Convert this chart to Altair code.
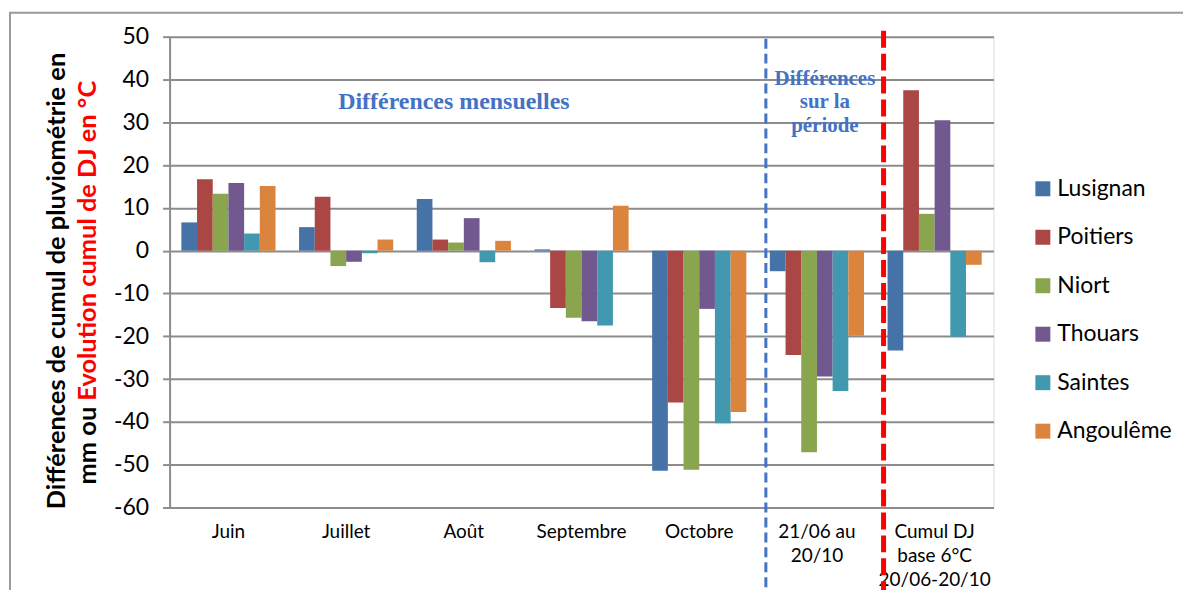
import altair as alt
import pandas as pd

# ---------------- data ----------------
categories = ["Juin", "Juillet", "Août", "Septembre", "Octobre",
              "21/06 au|20/10", "Cumul DJ|base 6°C|20/06-20/10"]
stations = ["Lusignan", "Poitiers", "Niort", "Thouars", "Saintes", "Angoulême"]
colors = ["#4572A7", "#AA4643", "#89A54E", "#71588F", "#4198AF", "#DB843D"]

lusignan = [6.6, 5.5, 12.1, 0.3, -51.4, -4.8, -23.3]
poitiers = [16.7, 12.6, 2.6, -13.4, -35.5, -24.4, 37.5]
niort = [13.3, -3.6, 1.9, -15.7, -51.2, -47.1, 8.6]
thouars = [15.8, -2.6, 7.6, -16.5, -13.6, -29.4, 30.5]
saintes = [4.0, -0.6, -2.7, -17.5, -40.3, -32.8, -20.1]
angouleme = [15.1, 2.6, 2.3, 10.5, -37.7, -19.9, -3.3]

y_ticks = [-60, -50, -40, -30, -20, -10, 0, 10, 20, 30, 40, 50]

title_line1 = "Différences de cumul de pluviométrie en"
title_line2_black = "mm ou"
title_line2_red = "Evolution cumul de DJ en °C"
note_monthly = "Différences mensuelles"
note_period = ["Différences", "sur la", "période"]
divider_blue = ["21/06 au|20/10"]
divider_red = ["Cumul DJ|base 6°C|20/06-20/10"]

series = [lusignan, poitiers, niort, thouars, saintes, angouleme]
rows = []
for st, vals in zip(stations, series):
    for c, v in zip(categories, vals):
        rows.append({"cat": c, "station": st, "value": v})
df = pd.DataFrame(rows)

W, H = 826, 472
GRID = "#8C8C8C"
FONT = "Lato"

xscale = alt.Scale(domain=categories, paddingInner=0.2, paddingOuter=0.1)

bars = alt.Chart(df).mark_bar().encode(
    x=alt.X("cat:N", sort=categories, scale=xscale, title=None,
            axis=alt.Axis(labelExpr="split(datum.label, '|')", labelAngle=0,
                          labelFont=FONT, labelFontSize=19, labelColor="#000000",
                          labelLineHeight=24, labelPadding=15, ticks=False,
                          domainColor=GRID, domainWidth=2, labelBaseline="top")),
    xOffset=alt.XOffset("station:N", sort=stations,
                        scale=alt.Scale(domain=stations, paddingInner=0, paddingOuter=0)),
    y=alt.Y("value:Q", scale=alt.Scale(domain=[-60, 50], nice=False, zero=False),
            title=None,
            axis=alt.Axis(values=y_ticks, labelExpr="'' + datum.value",
                          labelFont=FONT, labelFontSize=23,
                          labelColor="#000000", labelPadding=14, tickSize=7,
                          tickColor=GRID, tickWidth=2, domainColor=GRID,
                          domainWidth=2, gridColor=GRID, gridWidth=2, gridOpacity=1)),
    color=alt.Color("station:N", sort=stations,
                    scale=alt.Scale(domain=stations, range=colors),
                    legend=alt.Legend(title=None, orient="none", legendX=864, legendY=141,
                                      symbolType="square", symbolSize=225,
                                      symbolStrokeWidth=0, labelFont=FONT,
                                      labelFontSize=23, labelColor="#000000",
                                      labelOffset=3, rowPadding=24.6, padding=0)),
)

blue_rule = alt.Chart(pd.DataFrame({"cat": divider_blue})).mark_rule(
    color="#4472C4", strokeWidth=3, strokeDash=[10, 5]
).encode(
    x=alt.X("cat:N", sort=categories, scale=xscale, bandPosition=0),
    xOffset=alt.value(-4),
    y=alt.value(2), y2=alt.value(H + 90),
)

red_rule = alt.Chart(pd.DataFrame({"cat": divider_red})).mark_rule(
    color="#FF0000", strokeWidth=5, strokeDash=[17, 6]
).encode(
    x=alt.X("cat:N", sort=categories, scale=xscale, bandPosition=0),
    xOffset=alt.value(-4),
    y=alt.value(-6), y2=alt.value(H + 90),
)

one = pd.DataFrame({"k": [0]})

frame = alt.Chart(one).mark_rect(fill=None, stroke="#9A9A9A", strokeWidth=2).encode(
    x=alt.value(-160), y=alt.value(-24), x2=alt.value(W + 260), y2=alt.value(H + 200)
)

txt_monthly = alt.Chart(one).mark_text(
    text=note_monthly, font="Liberation Serif", fontWeight="bold", fontSize=24,
    color="#4472C4", align="center", baseline="middle"
).encode(x=alt.value(285), y=alt.value(66))

txt_period = alt.Chart(one).mark_text(
    text=note_period, font="Liberation Serif", fontWeight="bold", fontSize=21,
    lineHeight=24, color="#4472C4", align="center", baseline="middle"
).encode(x=alt.value(657), y=alt.value(42))

t1 = alt.Chart(one).mark_text(
    text=title_line1, font=FONT, fontWeight="bold", fontSize=25.5, color="#000000",
    angle=270, align="center", baseline="middle"
).encode(x=alt.value(-113), y=alt.value(245))

t2a = alt.Chart(one).mark_text(
    text=title_line2_black, font=FONT, fontWeight="bold", fontSize=25.5, color="#000000",
    angle=270, align="right", baseline="middle"
).encode(x=alt.value(-82), y=alt.value(371))

t2b = alt.Chart(one).mark_text(
    text=title_line2_red, font=FONT, fontWeight="bold", fontSize=25.5, color="#FF0000",
    angle=270, align="left", baseline="middle"
).encode(x=alt.value(-82), y=alt.value(365))

chart = alt.layer(frame, bars, blue_rule, red_rule, txt_monthly, txt_period, t1, t2a, t2b).properties(
    width=W, height=H,
    autosize=alt.AutoSizeParams(type="none"),
    padding={"left": 162, "top": 28, "right": 190, "bottom": 82},
).configure_view(stroke=None).configure(background="#FFFFFF")

chart.save("out.html", embed_options={"renderer": "svg", "actions": False})
